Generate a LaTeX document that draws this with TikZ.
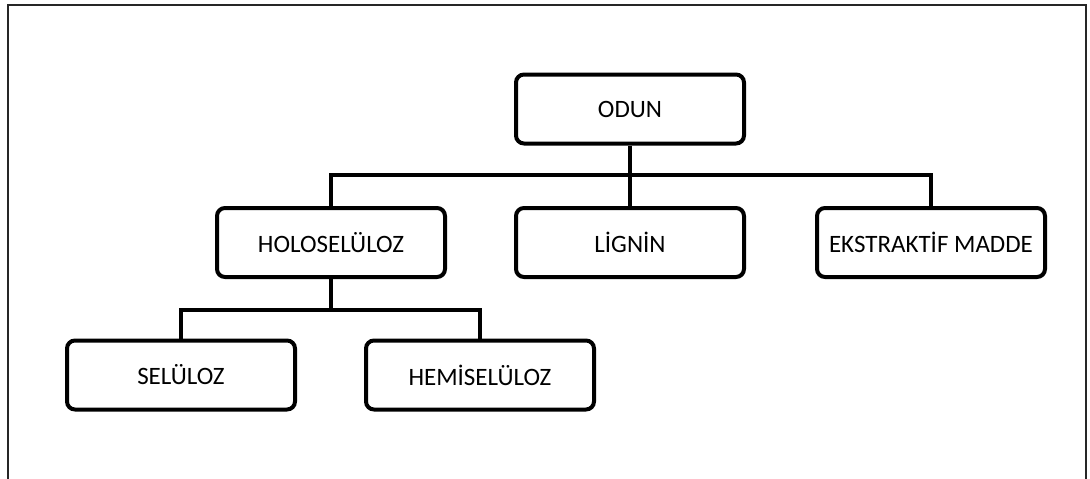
\documentclass[tikz,border=0pt]{standalone}
\usepackage{fontspec}
\setmainfont{Carlito}
\begin{document}
\begin{tikzpicture}[x=1pt,y=-1pt,
  box/.style={draw=black, line width=4pt, rounded corners=8pt, fill=white,
    minimum width=228pt, minimum height=69pt, inner sep=0pt,
    font=\fontsize{25}{29}\selectfont},
  link/.style={draw=black, line width=4pt},
  frame/.style={draw=black!85, line width=2pt}]
  \useasboundingbox (0,0) rectangle (1090,479);
  % open frame round the tree
  \draw[frame] (8,480) -- (8,5) -- (1086,5) -- (1086,480);

  % boxes
  \node[box] (odun) at (630,109) {ODUN};
  \node[box] (holo) at (331,242.5) {HOLOSELÜLOZ};
  \node[box] (lig)  at (630,242.5) {LİGNİN};
  \node[box] (eks)  at (931,242.5) {EKSTRAKTİF MADDE};
  \node[box] (sel)  at (181,375) {SELÜLOZ};
  \node[box] (hemi) at (480,375) {HEMİSELÜLOZ};

  % junction points of the connectors
  \coordinate (j1) at (630,175);
  \coordinate (j2) at (331,310);

  % connectors
  \draw[link] (odun.south) -- (j1);
  \draw[link] (holo.north) |- (j1) -| (eks.north);
  \draw[link] (j1) -- (lig.north);
  \draw[link] (holo.south) -- (j2);
  \draw[link] (sel.north) |- (j2) -| (hemi.north);
\end{tikzpicture}
\end{document}
